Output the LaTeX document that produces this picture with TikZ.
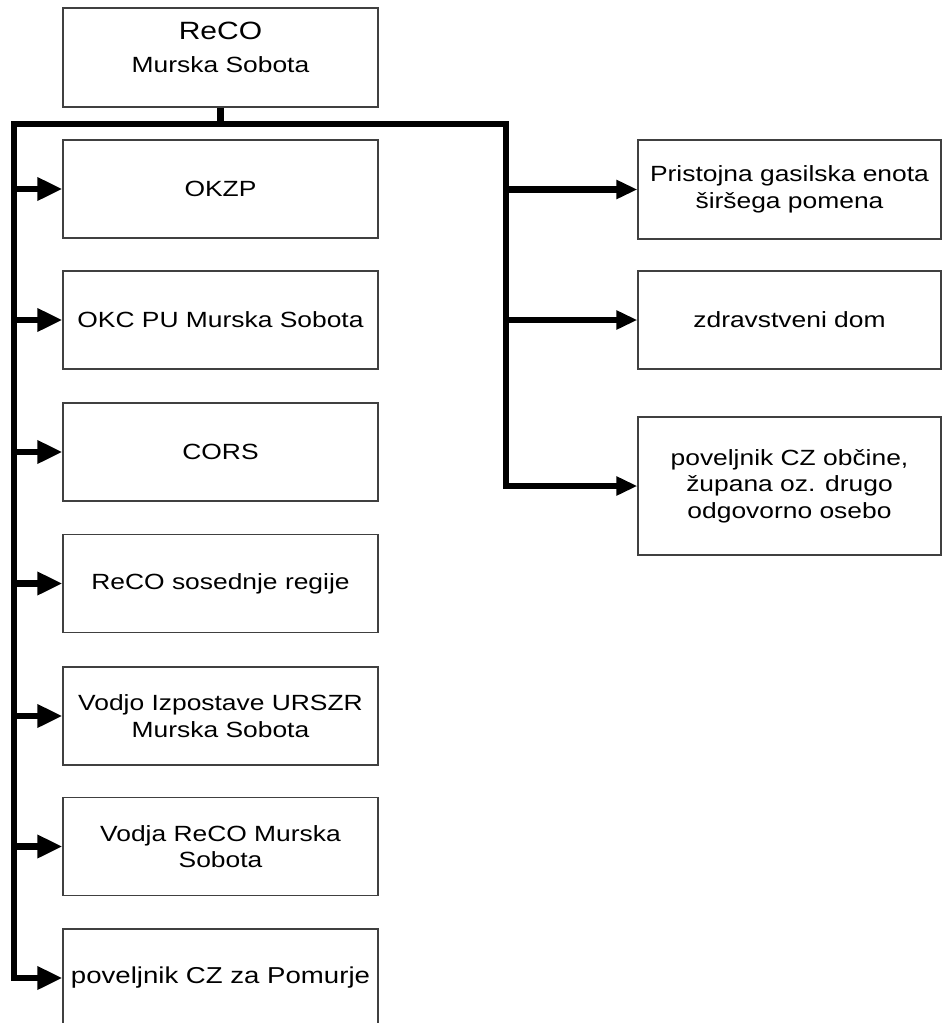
\documentclass[tikz,border=0pt]{standalone}
\usepackage{fontspec}
\setmainfont[FakeStretch=1.2]{Liberation Sans}
\usetikzlibrary{arrows.meta}
\begin{document}
\begin{tikzpicture}[x=1pt,y=-1pt,
  box/.style={draw=black!75, line width=1.2pt, minimum width=315pt, minimum height=98pt,
    inner sep=2pt, align=center, font=\fontsize{22}{26.5}\selectfont},
  rbox/.style={box, minimum width=303pt},
  lbl/.style={anchor=base, inner sep=0pt},
  bus/.style={line width=6.5pt, line join=miter},
  la/.style={-{Triangle[length=25pt,width=22pt]}},
  ra/.style={-{Triangle[length=21pt,width=18pt]}}]
\useasboundingbox (0,0) rectangle (942,1023);
\clip (0,0) rectangle (942,1023);
\fill[white] (0,0) rectangle (942,1023);

% top box
\node[box, minimum height=99pt] (reco) at (220.5,57.5) {};
\node[lbl, font=\fontsize{25}{30}\selectfont] (recoA) at (220.5,39) {ReCO};
\node[lbl, font=\fontsize{22}{26.5}\selectfont] (recoB) at (220.5,72) {Murska Sobota};

% left column
\node[box] (okzp) at (220.5,189) {OKZP};
\node[box] (okc)  at (220.5,320) {OKC PU Murska Sobota};
\node[box] (cors) at (220.5,452) {CORS};
\node[box] (sos)  at (220.5,583.5) {ReCO sosednje regije};
\node[box] (vodjo) at (220.5,716) {Vodjo Izpostave URSZR\\Murska Sobota};
\node[box] (vodja) at (220.5,846.5) {Vodja ReCO Murska\\Sobota};
\node[box, font=\fontsize{23}{27}\selectfont] (pov) at (220.5,978) {poveljnik CZ za Pomurje};

% right column
\node[rbox, minimum height=99pt] (gas) at (789.5,189.5) {Pristojna gasilska enota\\širšega pomena};
\node[rbox] (zd) at (789.5,320) {zdravstveni dom};
\node[rbox, minimum height=138pt] (pcz) at (789.5,486) {poveljnik CZ občine,\\župana oz. drugo\\odgovorno osebo};

% bus junctions
\coordinate (hl) at (14,124);
\coordinate (hr) at (506,124);

\draw[bus] (reco.south) -- (reco.south |- hl);
\draw[bus, {Triangle[length=21pt,width=18pt]}-{Triangle[length=25pt,width=22pt]}]
  (pcz.west) -| (hr) -- (hl) |- (pov.west);

\foreach \b in {okzp,okc,cors,sos,vodjo,vodja}
  \draw[bus, la] (hl |- \b.west) -- (\b.west);
\foreach \b in {gas,zd}
  \draw[bus, ra] (hr |- \b.west) -- (\b.west);
\end{tikzpicture}
\end{document}
